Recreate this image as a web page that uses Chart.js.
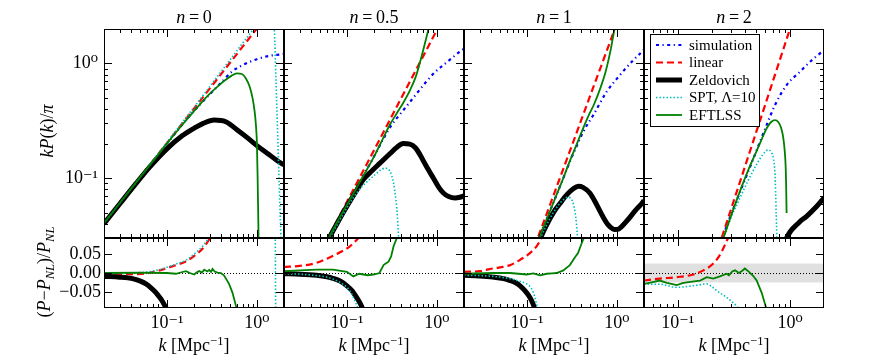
<!DOCTYPE html>
<html>
<head>
<meta charset="utf-8">
<script src="https://cdn.jsdelivr.net/npm/chart.js@4.4.1/dist/chart.umd.min.js"></script>
<style>
  body { margin: 0; background: #fff; }
  #fig { position: relative; width: 872px; height: 363px; overflow: hidden; font-family: 'Liberation Serif', serif; color: #000; }
  #fig canvas { position: absolute; left: 0; top: 0; }
  .lbl { position: absolute; white-space: nowrap; font-size: 18px; line-height: 1; }
  .lbl sup { font-size: 70%; vertical-align: 0.5em; line-height: 0; }
  .lbl sub { font-size: 70%; vertical-align: -0.3em; line-height: 0; }
  .rot { transform: translate(-50%, -50%) rotate(-90deg); }
  .ctr { transform: translateX(-50%); }
</style>
</head>
<body>
<div id="fig"></div>
<script>
// ---- axes ----
const kRange = [0.02, 2];
const kRangeN2 = [0.05, 2];
const pRange = [0.03, 2];
const rRange = [-0.093, 0.093];
const kMajor = [0.1, 1];
const kMinor = [0.02, 0.03, 0.04, 0.05, 0.06, 0.07, 0.08, 0.09, 0.2, 0.3, 0.4, 0.5, 0.6, 0.7, 0.8, 0.9, 2];
const pMajor = [0.1, 1];
const pMinor = [0.03, 0.04, 0.05, 0.06, 0.07, 0.08, 0.09, 0.2, 0.3, 0.4, 0.5, 0.6, 0.7, 0.8, 0.9, 2];
const rMajor = [-0.05, 0, 0.05];
const errBand = [-0.025, 0.025];
const titles = ['0', '0.5', '1', '2'];

// ---- n = 0 ----
const k0Lin = [0.02, 0.05, 0.1, 0.2, 0.5, 1.0, 1.2];
const lin0 = [0.0404, 0.101, 0.202, 0.404, 1.01, 2.02, 2.42];
const k0Sim = [0.02, 0.03, 0.05, 0.07, 0.1, 0.15, 0.2, 0.25, 0.3, 0.4, 0.537, 0.755, 1.0, 1.37, 1.85, 2.0];
const sim0 = [0.0404, 0.0605, 0.101, 0.141, 0.2, 0.296, 0.386, 0.465, 0.54, 0.68, 0.858, 1.0, 1.09, 1.166, 1.2, 1.21];
const k0Zel = [0.02, 0.03, 0.045, 0.065, 0.1, 0.149, 0.2, 0.25, 0.336, 0.45, 0.637, 0.8, 0.975, 1.3, 1.85, 2.0];
const zel0 = [0.040, 0.0597, 0.089, 0.126, 0.18, 0.235, 0.272, 0.299, 0.321, 0.31, 0.255, 0.222, 0.195, 0.165, 0.135, 0.131];
const k0Spt = [0.02, 0.05, 0.1, 0.2, 0.3, 0.5, 0.7, 0.91, 1.1, 1.3, 1.45, 1.56, 1.63, 1.70, 1.77, 1.85, 1.9];
const spt0 = [0.0404, 0.101, 0.205, 0.415, 0.63, 1.07, 1.52, 2.0, 2.6, 3.0, 2.8, 2.0, 0.70, 0.245, 0.086, 0.03, 0.015];
const k0Eft = [0.02, 0.05, 0.1, 0.15, 0.229, 0.3, 0.381, 0.45, 0.52, 0.6, 0.68, 0.755, 0.83, 0.896, 0.94, 0.975, 1.0, 1.017, 1.03, 1.043, 1.055];
const eft0 = [0.0404, 0.101, 0.2, 0.295, 0.434, 0.545, 0.648, 0.72, 0.78, 0.819, 0.81, 0.741, 0.63, 0.496, 0.39, 0.291, 0.2, 0.107, 0.06, 0.03, 0.015];
// residuals (P - P_NL)/P_NL
const rk0Lin = [0.02, 0.04, 0.06, 0.08, 0.1, 0.13, 0.16, 0.2, 0.25, 0.3, 0.35];
const rLin0 = [0.0, -0.003, -0.001, 0.006, 0.013, 0.022, 0.03, 0.045, 0.065, 0.092, 0.12];
const rk0Zel = [0.02, 0.03, 0.0415, 0.05, 0.0585, 0.067, 0.0755, 0.082, 0.089, 0.095, 0.1, 0.11];
const rZel0 = [-0.009, -0.011, -0.015, -0.021, -0.029, -0.04, -0.052, -0.063, -0.075, -0.087, -0.097, -0.12];
const rk0Spt = [0.02, 0.05, 0.08, 0.1, 0.13, 0.16, 0.2, 0.25, 0.3, 0.5, 0.9, 1.3, 1.55, 1.6, 1.63, 1.68, 1.75];
const rSpt0 = [0, 0.001, 0.008, 0.015, 0.025, 0.033, 0.05, 0.072, 0.1, 0.25, 0.9, 1.5, 0.6, 0.1, -0.3, -0.8, -1.2];
const rk0Eft = [0.02, 0.05, 0.1, 0.126, 0.145, 0.163, 0.18, 0.201, 0.215, 0.229, 0.245, 0.26, 0.28, 0.295, 0.31, 0.321, 0.34, 0.365, 0.398, 0.43, 0.453, 0.49, 0.535, 0.58, 0.62];
const rEft0 = [0, 0.001, 0, -0.002, 0.002, 0.005, 0, -0.004, 0.002, 0.005, 0.001, 0.009, 0.004, 0.008, 0.003, 0.011, 0.004, 0.001, 0.0, -0.006, -0.015, -0.029, -0.052, -0.084, -0.11];

// ---- n = 0.5 ----
const k1Lin = [0.05, 0.1, 0.2, 0.4, 0.7, 1.0, 1.2];
const lin1 = [0.0219, 0.062, 0.175, 0.496, 1.148, 1.96, 2.58];
const k1Sim = [0.05, 0.06, 0.08, 0.1, 0.125, 0.15, 0.2, 0.25, 0.314, 0.4, 0.5, 0.6, 0.77, 0.95, 1.2, 1.5, 1.9, 2.0];
const sim1 = [0.021, 0.0277, 0.0425, 0.0582, 0.08, 0.103, 0.154, 0.215, 0.291, 0.37, 0.46, 0.55, 0.70, 0.84, 0.98, 1.13, 1.31, 1.34];
const k1Zel = [0.05, 0.06, 0.08, 0.1, 0.128, 0.152, 0.19, 0.233, 0.3, 0.36, 0.424, 0.5, 0.58, 0.649, 0.75, 0.912, 1.05, 1.18, 1.35, 1.59, 1.8, 2.0];
const zel1 = [0.0209, 0.0276, 0.0418, 0.0567, 0.078, 0.097, 0.116, 0.135, 0.163, 0.186, 0.2, 0.198, 0.183, 0.16, 0.13, 0.1, 0.083, 0.074, 0.069, 0.067, 0.068, 0.07];
const k1Spt = [0.05, 0.06, 0.08, 0.1, 0.13, 0.16, 0.2, 0.235, 0.265, 0.3, 0.33, 0.35, 0.365, 0.375, 0.385];
const spt1 = [0.0208, 0.0273, 0.0405, 0.055, 0.075, 0.09, 0.105, 0.117, 0.122, 0.115, 0.09, 0.065, 0.045, 0.03, 0.02];
const k1Eft = [0.05, 0.06, 0.08, 0.1, 0.125, 0.15, 0.2, 0.25, 0.3, 0.36, 0.42, 0.5, 0.58, 0.65, 0.72, 0.8, 0.85];
const eft1 = [0.0211, 0.028, 0.0429, 0.0584, 0.0795, 0.1025, 0.154, 0.219, 0.292, 0.37, 0.45, 0.58, 0.76, 1.03, 1.4, 1.95, 2.4];
const rk1Lin = [0.02, 0.03, 0.046, 0.065, 0.084, 0.108, 0.125, 0.15];
const rLin1 = [0.016, 0.019, 0.027, 0.042, 0.055, 0.071, 0.085, 0.105];
const rk1Zel = [0.02, 0.03, 0.046, 0.06, 0.07, 0.085, 0.1, 0.115, 0.128, 0.14, 0.151, 0.17];
const rZel1 = [-0.002, -0.003, -0.006, -0.01, -0.014, -0.022, -0.034, -0.048, -0.065, -0.08, -0.097, -0.13];
const rk1Spt = [0.02, 0.03, 0.046, 0.06, 0.07, 0.085, 0.1, 0.11, 0.118, 0.126, 0.134, 0.15];
const rSpt1 = [-0.002, -0.003, -0.007, -0.011, -0.016, -0.026, -0.038, -0.05, -0.065, -0.08, -0.097, -0.14];
const rk1Eft = [0.02, 0.03, 0.046, 0.07, 0.1, 0.118, 0.137, 0.17, 0.197, 0.23, 0.255, 0.27, 0.29, 0.31, 0.33, 0.36, 0.4];
const rEft1 = [0.005, 0.007, 0.009, 0.009, 0.003, -0.009, -0.002, -0.006, -0.004, 0, 0.021, 0.025, 0.03, 0.044, 0.071, 0.094, 0.13];

// ---- n = 1 ----
const k2Lin = [0.1, 0.12, 0.2, 0.3, 0.5, 0.7, 1.0, 1.1];
const lin2 = [0.0166, 0.0245, 0.0726, 0.172, 0.513, 1.05, 2.24, 2.72];
const k2Sim = [0.08, 0.1, 0.12, 0.146, 0.2, 0.25, 0.301, 0.357, 0.424, 0.547, 0.769, 1.08, 1.52, 1.97, 2.0];
const sim2 = [0.01, 0.0158, 0.023, 0.034, 0.063, 0.097, 0.14, 0.19, 0.255, 0.355, 0.567, 0.792, 1.07, 1.31, 1.33];
const k2Zel = [0.1, 0.12, 0.134, 0.16, 0.2, 0.233, 0.28, 0.33, 0.372, 0.42, 0.5, 0.596, 0.7, 0.8, 0.9, 0.953, 1.05, 1.28, 1.6, 1.97, 2.0];
const zel2 = [0.0153, 0.0213, 0.027, 0.037, 0.051, 0.06, 0.072, 0.081, 0.0847, 0.083, 0.074, 0.0586, 0.046, 0.039, 0.036, 0.0356, 0.036, 0.042, 0.052, 0.0627, 0.064];
const k2Spt = [0.1, 0.12, 0.134, 0.16, 0.2, 0.25, 0.288, 0.32, 0.342, 0.355, 0.365, 0.375];
const spt2 = [0.0153, 0.0215, 0.027, 0.037, 0.051, 0.064, 0.068, 0.063, 0.051, 0.04, 0.03, 0.02];
const k2Eft = [0.1, 0.12, 0.146, 0.2, 0.25, 0.301, 0.36, 0.42, 0.5, 0.55, 0.65, 0.75, 0.85, 0.935, 1.0];
const eft2 = [0.0158, 0.023, 0.034, 0.063, 0.097, 0.142, 0.2, 0.27, 0.37, 0.43, 0.6, 0.85, 1.3, 1.95, 2.5];
const rk2Lin = [0.02, 0.03, 0.042, 0.065, 0.084, 0.108, 0.128, 0.146, 0.165];
const rLin2 = [0.003, 0.005, 0.012, 0.021, 0.035, 0.053, 0.071, 0.094, 0.12];
const rk2Zel = [0.02, 0.03, 0.042, 0.055, 0.065, 0.075, 0.084, 0.095, 0.108, 0.116, 0.123, 0.135];
const rZel2 = [-0.006, -0.008, -0.011, -0.015, -0.02, -0.026, -0.034, -0.047, -0.065, -0.08, -0.097, -0.13];
const rk2Spt = [0.02, 0.03, 0.042, 0.065, 0.08, 0.0996, 0.11, 0.118, 0.125, 0.132, 0.14];
const rSpt2 = [-0.006, -0.007, -0.009, -0.015, -0.021, -0.029, -0.038, -0.052, -0.072, -0.097, -0.13];
const rk2Eft = [0.02, 0.042, 0.065, 0.0996, 0.118, 0.14, 0.166, 0.19, 0.214, 0.254, 0.3, 0.342, 0.37, 0.4, 0.43, 0.46];
const rEft2 = [-0.002, 0, 0, -0.004, -0.001, -0.006, -0.002, -0.001, 0, 0.007, 0.021, 0.042, 0.053, 0.075, 0.094, 0.12];

// ---- n = 2 ----
const k3Lin = [0.2, 0.25, 0.3, 0.4, 0.5, 0.6, 0.7, 0.8, 0.9, 1.0, 1.1];
const lin3 = [0.0162, 0.0317, 0.0548, 0.13, 0.254, 0.438, 0.696, 1.04, 1.48, 2.03, 2.70];
const k3Sim = [0.05, 0.1, 0.15, 0.2, 0.25, 0.3, 0.4, 0.5, 0.618, 0.733, 0.929, 1.22, 1.61, 1.97, 2.0];
const sim3 = [0.00026, 0.00205, 0.0068, 0.0158, 0.0302, 0.049, 0.0995, 0.172, 0.291, 0.434, 0.648, 0.847, 1.10, 1.28, 1.29];
const k3Zel = [0.8, 0.9, 0.929, 1.2, 1.4, 1.7, 2.0, 2.1];
const zel3 = [0.02, 0.027, 0.03, 0.041, 0.0464, 0.056, 0.067, 0.07];
const k3Spt = [0.2, 0.25, 0.3, 0.357, 0.42, 0.501, 0.57, 0.638, 0.68, 0.708, 0.733, 0.75, 0.76, 0.77];
const spt3 = [0.0153, 0.0285, 0.046, 0.067, 0.094, 0.131, 0.16, 0.176, 0.168, 0.149, 0.107, 0.051, 0.03, 0.015];
const k3Eft = [0.2, 0.25, 0.254, 0.3, 0.357, 0.42, 0.501, 0.56, 0.618, 0.68, 0.733, 0.78, 0.83, 0.869, 0.895, 0.91, 0.92, 0.929];
const eft3 = [0.0155, 0.029, 0.03, 0.048, 0.0766, 0.115, 0.171, 0.22, 0.272, 0.31, 0.321, 0.31, 0.275, 0.223, 0.17, 0.131, 0.09, 0.0496];
const rk3Lin = [0.05, 0.069, 0.098, 0.137, 0.169, 0.207, 0.237, 0.263, 0.281, 0.3];
const rLin3 = [-0.02, -0.015, -0.011, -0.004, 0.007, 0.025, 0.048, 0.075, 0.094, 0.115];
const rk3Spt = [0.05, 0.069, 0.098, 0.137, 0.16, 0.181, 0.2, 0.222, 0.272, 0.334, 0.36];
const rSpt3 = [-0.03, -0.03, -0.038, -0.034, -0.031, -0.029, -0.036, -0.047, -0.065, -0.088, -0.1];
const rk3Eft = [0.05, 0.06, 0.069, 0.08, 0.098, 0.11, 0.12, 0.14, 0.158, 0.181, 0.207, 0.237, 0.272, 0.285, 0.305, 0.323, 0.35, 0.375, 0.395, 0.43, 0.47, 0.503, 0.557, 0.617, 0.65];
const rEft3 = [-0.029, -0.024, -0.02, -0.026, -0.032, -0.027, -0.025, -0.022, -0.02, -0.011, -0.015, -0.009, -0.002, -0.006, 0.004, 0.007, 0, 0.006, 0.012, 0.003, -0.008, -0.02, -0.052, -0.097, -0.13];

// ---- layout & styles ----
const colLeft = [104, 284, 464, 644];
const colWidth = 180;
const rowY = [[29, 238], [238, 308]];
const FONT = "'Liberation Serif', 'DejaVu Serif', serif";
const styles = {
  sim: { label: 'simulation', borderColor: '#0000ff', borderWidth: 2.2, borderDash: [3, 3.5, 1.2, 3.5], order: 5 },
  lin: { label: 'linear', borderColor: '#ff0000', borderWidth: 2.2, borderDash: [7, 4], order: 4 },
  zel: { label: 'Zeldovich', borderColor: '#000000', borderWidth: 5, order: 3 },
  spt: { label: 'SPT, \u039B=10', borderColor: '#00bfbf', borderWidth: 1.6, borderDash: [1.5, 2], order: 2 },
  eft: { label: 'EFTLSS', borderColor: '#008000', borderWidth: 1.8, order: 1 }
};

const supMap = { '-': '\u207B', '0': '\u2070', '1': '\u00B9', '2': '\u00B2', '3': '\u00B3' };
function decadeLabel(v) {
  const e = String(Math.round(Math.log10(v)));
  return '10' + e.split('').map(c => supMap[c]).join('');
}
function residLabel(v) {
  if (Math.abs(v) < 1e-9) return '0.00';
  return (v < 0 ? '\u2212' : '') + Math.abs(v).toFixed(2);
}

function series(kind, k, v, smooth) {
  const s = styles[kind];
  return {
    label: s.label,
    data: k.map((x, i) => ({ x: x, y: v[i] })),
    borderColor: s.borderColor,
    borderWidth: s.borderWidth,
    borderDash: s.borderDash || [],
    order: s.order,
    pointRadius: 0,
    fill: false,
    clip: 0,
    cubicInterpolationMode: smooth ? 'monotone' : 'default',
    tension: 0
  };
}

// matplotlib-like frame, inward ticks, zero line, band, legend
const mplPlugin = {
  id: 'mpl',
  beforeDatasetsDraw(chart, args, o) {
    const { ctx, chartArea: a, scales: { y } } = chart;
    ctx.save();
    if (o.band) {
      const y1 = y.getPixelForValue(o.band[1]);
      const y0 = y.getPixelForValue(o.band[0]);
      ctx.fillStyle = '#e0e0e0';
      ctx.fillRect(a.left, y1, a.right - a.left, y0 - y1);
    }
    if (o.zero) {
      const yz = Math.round(y.getPixelForValue(0)) + 0.5;
      ctx.strokeStyle = '#000';
      ctx.lineWidth = 1;
      ctx.setLineDash([1, 2]);
      ctx.beginPath();
      ctx.moveTo(a.left, yz);
      ctx.lineTo(a.right, yz);
      ctx.stroke();
    }
    ctx.restore();
  },
  afterDatasetsDraw(chart, args, o) {
    const { ctx, chartArea: a, scales: { x, y } } = chart;
    ctx.save();
    ctx.strokeStyle = '#000';
    ctx.lineWidth = 1;
    ctx.setLineDash([]);
    ctx.strokeRect(a.left + 0.5, a.top + 0.5, a.right - a.left - 1, a.bottom - a.top - 1);
    const xt = (vals, len) => vals.forEach(v => {
      const px = Math.round(x.getPixelForValue(v)) + 0.5;
      if (px < a.left || px > a.right) return;
      ctx.beginPath();
      ctx.moveTo(px, a.bottom); ctx.lineTo(px, a.bottom - len);
      ctx.moveTo(px, a.top); ctx.lineTo(px, a.top + len);
      ctx.stroke();
    });
    const yt = (vals, len) => vals.forEach(v => {
      const py = Math.round(y.getPixelForValue(v)) + 0.5;
      if (py < a.top || py > a.bottom) return;
      ctx.beginPath();
      ctx.moveTo(a.left, py); ctx.lineTo(a.left + len, py);
      ctx.moveTo(a.right, py); ctx.lineTo(a.right - len, py);
      ctx.stroke();
    });
    xt(kMajor, 8); xt(kMinor, 4);
    yt(o.yMajor, 8); yt(o.yMinor || [], 4);
    if (o.legend) {
      const lx = 650, ly = 34, lw = 109, lh = 92;
      ctx.fillStyle = '#fff';
      ctx.fillRect(lx + 0.5, ly + 0.5, lw, lh);
      ctx.strokeRect(lx + 0.5, ly + 0.5, lw, lh);
      ctx.font = '15px ' + FONT;
      ctx.textBaseline = 'middle';
      ctx.textAlign = 'left';
      chart.data.datasets.forEach((d, i) => {
        const yy = 45 + i * 17.5;
        ctx.beginPath();
        ctx.setLineDash(d.borderDash || []);
        ctx.lineWidth = d.borderWidth;
        ctx.strokeStyle = d.borderColor;
        ctx.moveTo(656, yy); ctx.lineTo(682, yy);
        ctx.stroke();
        ctx.setLineDash([]);
        ctx.fillStyle = '#000';
        ctx.fillText(d.label, 689, yy + 1);
      });
    }
    ctx.restore();
  }
};

const fig = document.getElementById('fig');

function addChart(col, row, datasets, extra) {
  const c = document.createElement('canvas');
  c.width = 872; c.height = 363;
  fig.appendChild(c);
  const left = colLeft[col], right = left + colWidth;
  const [top, bottom] = rowY[row];
  const showX = row === 1, showY = col === 0;
  const xH = showX ? 40 : 0, yW = showY ? 70 : 0;
  const kr = col === 3 ? kRangeN2 : kRange;
  const logY = row === 0;
  new Chart(c, {
    type: 'line',
    data: { datasets: datasets },
    options: {
      responsive: false,
      animation: false,
      events: [],
      layout: { padding: { left: left - yW, right: 872 - right, top: top, bottom: 363 - bottom - xH } },
      scales: {
        x: {
          type: 'logarithmic', min: kr[0], max: kr[1], bounds: 'data',
          grid: { display: false, drawTicks: false }, border: { display: false },
          ticks: { display: showX, autoSkip: false, maxRotation: 0, minRotation: 0, padding: 4, color: '#000',
                   font: { family: FONT, size: 18 }, callback: v => decadeLabel(v) },
          afterBuildTicks: s => { s.ticks = kMajor.map(v => ({ value: v })); },
          afterFit: s => { s.height = xH; }
        },
        y: {
          type: logY ? 'logarithmic' : 'linear',
          min: logY ? pRange[0] : rRange[0], max: logY ? pRange[1] : rRange[1], bounds: 'data',
          grid: { display: false, drawTicks: false }, border: { display: false },
          ticks: { display: showY, autoSkip: false, padding: logY ? 6 : 3, color: '#000',
                   font: { family: FONT, size: 18 }, callback: v => logY ? decadeLabel(v) : residLabel(v) },
          afterBuildTicks: s => { s.ticks = (logY ? pMajor : rMajor).map(v => ({ value: v })); },
          afterFit: s => { s.width = yW; }
        }
      },
      plugins: {
        legend: { display: false },
        tooltip: { enabled: false },
        mpl: Object.assign({ yMajor: logY ? pMajor : rMajor, yMinor: logY ? pMinor : [] }, extra || {})
      }
    },
    plugins: [mplPlugin]
  });
}

// top row: spectra
addChart(0, 0, [series('sim', k0Sim, sim0, true), series('lin', k0Lin, lin0, true), series('zel', k0Zel, zel0, true), series('spt', k0Spt, spt0, true), series('eft', k0Eft, eft0, true)]);
addChart(1, 0, [series('sim', k1Sim, sim1, true), series('lin', k1Lin, lin1, true), series('zel', k1Zel, zel1, true), series('spt', k1Spt, spt1, true), series('eft', k1Eft, eft1, true)]);
addChart(2, 0, [series('sim', k2Sim, sim2, true), series('lin', k2Lin, lin2, true), series('zel', k2Zel, zel2, true), series('spt', k2Spt, spt2, true), series('eft', k2Eft, eft2, true)]);
addChart(3, 0, [series('sim', k3Sim, sim3, true), series('lin', k3Lin, lin3, true), series('zel', k3Zel, zel3, true), series('spt', k3Spt, spt3, true), series('eft', k3Eft, eft3, true)], { legend: true });

// bottom row: residuals
addChart(0, 1, [series('lin', rk0Lin, rLin0, true), series('zel', rk0Zel, rZel0, true), series('spt', rk0Spt, rSpt0, true), series('eft', rk0Eft, rEft0, false)], { zero: true });
addChart(1, 1, [series('lin', rk1Lin, rLin1, true), series('zel', rk1Zel, rZel1, true), series('spt', rk1Spt, rSpt1, true), series('eft', rk1Eft, rEft1, false)], { zero: true });
addChart(2, 1, [series('lin', rk2Lin, rLin2, true), series('zel', rk2Zel, rZel2, true), series('spt', rk2Spt, rSpt2, true), series('eft', rk2Eft, rEft2, false)], { zero: true });
addChart(3, 1, [series('lin', rk3Lin, rLin3, true), series('spt', rk3Spt, rSpt3, true), series('eft', rk3Eft, rEft3, false)], { zero: true, band: errBand });

// text labels
function addLabel(html, x, y, cls) {
  const d = document.createElement('div');
  d.className = 'lbl ' + cls;
  d.style.left = x + 'px';
  d.style.top = y + 'px';
  d.innerHTML = html;
  fig.appendChild(d);
}
titles.forEach((t, i) => {
  const cx = colLeft[i] + colWidth / 2;
  addLabel('<i>n</i>\u2009=\u2009' + t, cx, 8, 'ctr');
  addLabel('<i>k</i> [Mpc<sup>\u22121</sup>]', cx, 336, 'ctr');
});
addLabel('<i>kP</i>(<i>k</i>)/<i>\u03C0</i>', 47, 131, 'rot');
addLabel('(<i>P</i>\u2212<i>P</i><sub><i>NL</i></sub>)/<i>P</i><sub><i>NL</i></sub>', 44, 272, 'rot');
</script>
</body>
</html>
